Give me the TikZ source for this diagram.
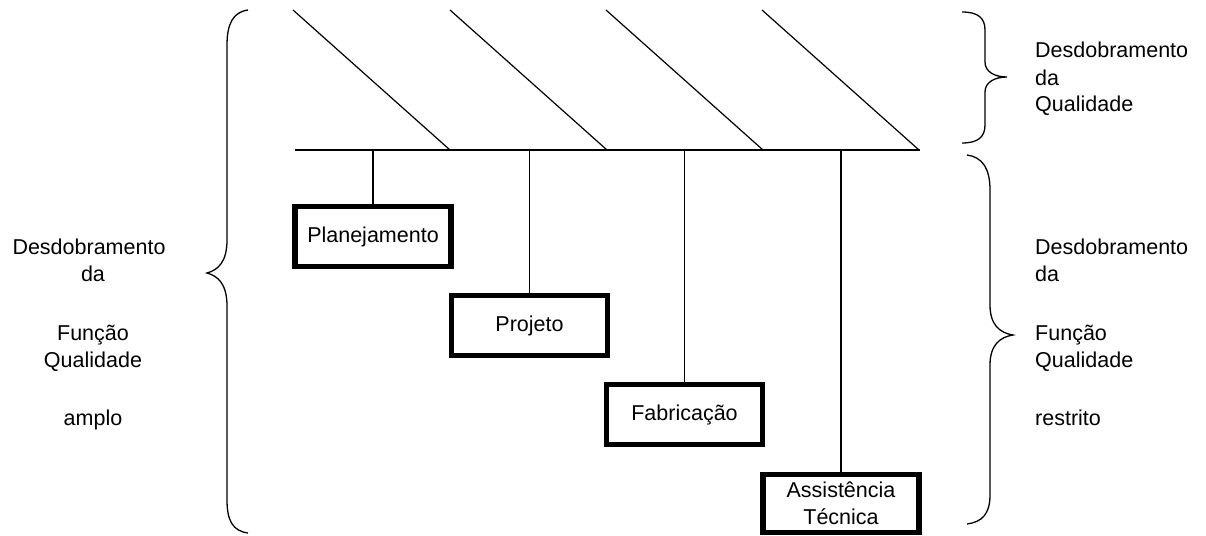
\documentclass[tikz,border=0pt]{standalone}
\usepackage{fontspec}
\setmainfont{Liberation Sans}
\begin{document}
\begin{tikzpicture}[x=1pt,y=-1pt,
  thinline/.style={line width=1.2pt, draw=black},
  bracepath/.style={line width=1.3pt, draw=black},
  stagebox/.style={draw=black, line width=5.5pt, minimum width=156pt, minimum height=60pt,
    inner sep=0pt, align=center, font=\fontsize{21.5}{26}\selectfont},
  lbl/.style={inner sep=0pt, font=\fontsize{21.5}{26}\selectfont}]
\useasboundingbox (0,0) rectangle (1206,535);

% spine
\coordinate (sL) at (295,150);
\coordinate (sR) at (920,150);
\draw[thinline] (sL) -- (sR);

% diagonals
\coordinate (d1a) at (293,10);  \coordinate (d1b) at (450,150);
\coordinate (d2a) at (450,10);  \coordinate (d2b) at (607,150);
\coordinate (d3a) at (606,10);  \coordinate (d3b) at (763,150);
\coordinate (d4a) at (762,10);  \coordinate (d4b) at (919,150);
\draw[thinline] (d1a) -- (d1b);
\draw[thinline] (d2a) -- (d2b);
\draw[thinline] (d3a) -- (d3b);
\draw[thinline] (d4a) -- (d4b);

% boxes
\node[stagebox] (pl) at (373,236.5) {Planejamento};
\node[stagebox] (pr) at (529.5,325.5) {Projeto};
\node[stagebox] (fa) at (684.5,414.5) {Fabricação};
\node[stagebox, minimum height=58pt, font=\fontsize{21.5}{27}\selectfont] (as) at (841,503.5) {Assistência\\Técnica};

\draw[thinline] (pl.north) -- (pl.north |- sL);
\draw[thinline] (pr.north) -- (pr.north |- sL);
\draw[thinline] (fa.north) -- (fa.north |- sL);
\draw[thinline] (as.north) -- (as.north |- sL);

% left brace
\draw[bracepath] (248,10) .. controls (233,12) and (227,24) .. (227,45) -- (227,240)
  .. controls (227,262) and (218,270) .. (207,273)
  .. controls (218,276) and (227,284) .. (227,306) -- (227,500)
  .. controls (227,521) and (233,531) .. (248,533);

% upper right brace
\draw[bracepath] (962,12) .. controls (978,12) and (985,18) .. (985,30) -- (985,62)
  .. controls (985,72) and (995,77) .. (1007,77)
  .. controls (995,77) and (985,82) .. (985,92) -- (985,125)
  .. controls (985,137) and (978,143) .. (962,143);

% lower right brace
\draw[bracepath] (967,155) .. controls (982,157) and (990,168) .. (990,190) -- (990,305)
  .. controls (990,325) and (1000,333) .. (1013,335)
  .. controls (1000,337) and (990,345) .. (990,365) -- (990,495)
  .. controls (990,514) and (982,522) .. (967,524);

% left text
\node[lbl, anchor=base] (l1) at (89,254) {Desdobramento};
\node[lbl, anchor=base] (l2) at (93,281) {da};
\node[lbl, anchor=base] (l3) at (93,340) {Função};
\node[lbl, anchor=base] (l4) at (93,367) {Qualidade};
\node[lbl, anchor=base] (l5) at (93,425) {amplo};

% upper right text
\node[lbl, anchor=base west] (u1) at (1035,58) {Desdobramento};
\node[lbl, anchor=base west] (u2) at (1035,85) {da};
\node[lbl, anchor=base west] (u3) at (1035,111) {Qualidade};

% lower right text
\node[lbl, anchor=base west] (r1) at (1035,254) {Desdobramento};
\node[lbl, anchor=base west] (r2) at (1035,281) {da};
\node[lbl, anchor=base west] (r3) at (1035,340) {Função};
\node[lbl, anchor=base west] (r4) at (1035,367) {Qualidade};
\node[lbl, anchor=base west] (r5) at (1035,425) {restrito};
\end{tikzpicture}
\end{document}
